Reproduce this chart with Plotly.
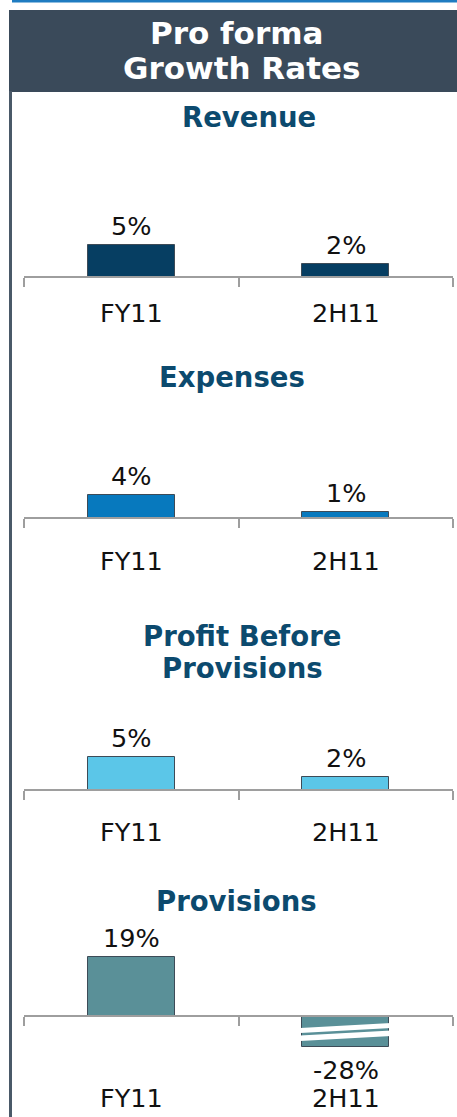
import plotly.graph_objects as go

# ---------------- data ----------------
categories = ["FY11", "2H11"]
revenue = [5, 2]
expenses = [4, 1]
profit_before_provisions = [5, 2]
provisions = [19, -28]

panel_titles = [["Revenue"], ["Expenses"], ["Profit Before", "Provisions"], ["Provisions"]]
header_lines = ["Pro forma", "Growth Rates"]

# ---------------- layout params ----------------
W, H = 457, 1117
FONT = "DejaVu Sans"
BREAK_FLOOR = -10  # bars below this are drawn broken (axis break)


def py(px):
    return 1 - px / H


def pxx(px):
    return px / W


panels = [
    dict(values=revenue, color="#063E62", axis=277, scale=6.45, top=140, bottom=277,
         title_y=[117], title_x=[249], cat_y=313),
    dict(values=expenses, color="#0779BE", axis=518, scale=5.8, top=400, bottom=518,
         title_y=[377], title_x=[232], cat_y=561),
    dict(values=profit_before_provisions, color="#5BC6E8", axis=790, scale=6.6, top=690, bottom=790,
         title_y=[636, 668], title_x=[242, 242], cat_y=832),
    dict(values=provisions, color="#5A9098", axis=1016, scale=3.1, top=925, bottom=1062,
         title_y=[901], title_x=[236], cat_y=1098),
]

fig = go.Figure()
annotations = []
shapes = []
layout_axes = {}

BAR_W = 0.405

for i, p in enumerate(panels, start=1):
    xa = "x" if i == 1 else f"x{i}"
    ya = "y" if i == 1 else f"y{i}"
    drawn = [max(v, BREAK_FLOOR) for v in p["values"]]
    fig.add_trace(go.Bar(
        x=categories, y=drawn, xaxis=xa, yaxis=ya, width=BAR_W,
        marker=dict(color=p["color"], line=dict(color="#3D4B57", width=1)),
        hoverinfo="skip", showlegend=False,
    ))
    rng = [-(p["bottom"] - p["axis"]) / p["scale"], (p["axis"] - p["top"]) / p["scale"]]
    layout_axes[f"xaxis{'' if i == 1 else i}"] = dict(
        domain=[pxx(24), pxx(453)], range=[-0.5, 1.5], type="category",
        anchor="free", position=py(p["axis"]),
        showline=True, linecolor="#9E9E9E", linewidth=1.5,
        ticks="outside", ticklen=9, tickwidth=1.5, tickcolor="#9E9E9E",
        tickson="boundaries", showticklabels=False, showgrid=False, zeroline=False,
        fixedrange=True,
    )
    layout_axes[f"yaxis{'' if i == 1 else i}"] = dict(
        domain=[py(p["bottom"]), py(p["top"])], range=rng, visible=False,
        showgrid=False, zeroline=False, fixedrange=True,
    )
    # panel titles
    for t, ty, tx in zip(panel_titles[i - 1], p["title_y"], p["title_x"]):
        annotations.append(dict(
            text=t, x=pxx(tx), y=py(ty), xref="paper", yref="paper",
            xanchor="center", yanchor="middle", showarrow=False,
            font=dict(family=FONT, size=27.5, color="#0C4A6E", weight="bold"),
        ))
    # value labels
    for c, v, d in zip(categories, p["values"], drawn):
        annotations.append(dict(
            text=f"{v}%", x=c, y=d, xref=xa, yref=ya,
            xanchor="center", yanchor="middle", showarrow=False,
            yshift=19 if v >= 0 else -23,
            font=dict(family=FONT, size=25.5, color="#111111"),
        ))
    # category labels
    for c in categories:
        annotations.append(dict(
            text=c, x=c, y=py(p["cat_y"]), xref=xa, yref="paper",
            xanchor="center", yanchor="middle", showarrow=False,
            font=dict(family=FONT, size=25.5, color="#111111"),
        ))
    # break marks for truncated bars
    for j, (v, d) in enumerate(zip(p["values"], drawn)):
        if v < BREAK_FLOOR:
            x0 = j - BAR_W / 2 - 0.01
            x1 = j + BAR_W / 2 + 0.01
            u = 1 / p["scale"]  # one pixel in data units
            for (l0, l1, r0, r1) in [(12, 17, 7, 12), (19.5, 25, 14.5, 20)]:
                path = (f"M {x0},{-l0*u} L {x1},{-r0*u} L {x1},{-r1*u} L {x0},{-l1*u} Z")
                shapes.append(dict(type="path", path=path, xref=xa, yref=ya,
                                   fillcolor="white", line=dict(width=0), layer="above"))

# header
shapes.append(dict(type="rect", xref="paper", yref="paper", x0=pxx(9), x1=1,
                   y0=py(92), y1=py(10), fillcolor="#3A4A5A", line=dict(width=0), layer="above"))
shapes.append(dict(type="rect", xref="paper", yref="paper", x0=pxx(12), x1=1,
                   y0=py(2.5), y1=1, fillcolor="#1F7CC1", line=dict(width=0), layer="above"))
shapes.append(dict(type="line", xref="paper", yref="paper", x0=pxx(10.5), x1=pxx(10.5),
                   y0=0, y1=py(91), line=dict(color="#4A5968", width=3), layer="above"))

for t, ty, tx in zip(header_lines, [33, 68], [236, 241]):
    annotations.append(dict(
        text=t, x=pxx(tx), y=py(ty), xref="paper", yref="paper",
        xanchor="center", yanchor="middle", showarrow=False,
        font=dict(family=FONT, size=31, color="white", weight="bold"),
    ))

fig.update_layout(
    width=W, height=H, margin=dict(l=0, r=0, t=0, b=0),
    paper_bgcolor="white", plot_bgcolor="white",
    annotations=annotations, shapes=shapes, showlegend=False,
    bargap=0, **layout_axes,
)

fig.write_html(
    "out.html",
    config={"displayModeBar": False},
    post_script="document.body.style.margin='0';document.body.style.overflow='hidden';",
)
